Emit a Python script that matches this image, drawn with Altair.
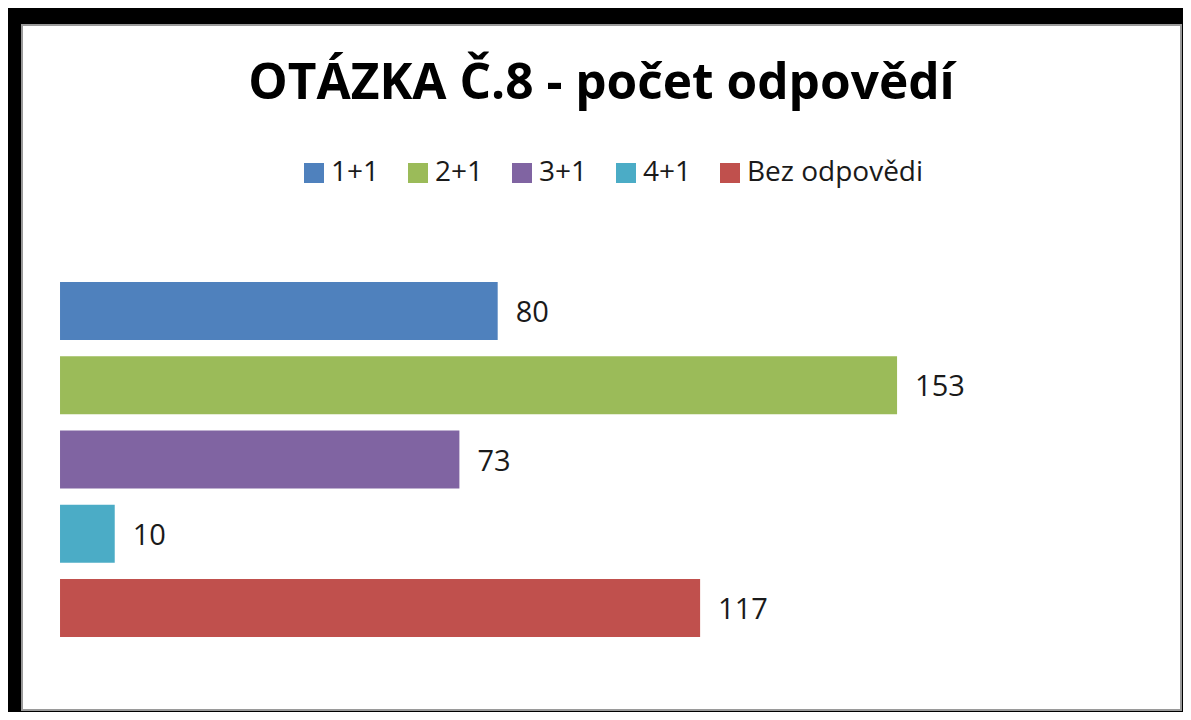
import altair as alt
import pandas as pd

categories = ["1+1", "2+1", "3+1", "4+1", "Bez odpovědi"]
values = [80, 153, 73, 10, 117]
colors = ["#4F81BD", "#9BBB59", "#8064A2", "#4BACC6", "#C0504D"]

df = pd.DataFrame({"kategorie": categories, "pocet": values})

FONT = "Open Sans"

x_enc = alt.X("pocet:Q", axis=None, scale=alt.Scale(domain=[-6.95, 204.9], nice=False, zero=False))
y_enc = alt.Y("kategorie:N", axis=None, sort=categories,
              scale=alt.Scale(range=[245, 624], paddingInner=0.22, paddingOuter=0.161))

bars = alt.Chart(df).mark_bar().encode(
    x=x_enc,
    y=y_enc,
    color=alt.Color("kategorie:N", sort=categories,
                    scale=alt.Scale(domain=categories, range=colors),
                    legend=alt.Legend(
                        title=None, orient="none", direction="horizontal",
                        legendX=278, legendY=134,
                        symbolType="square", symbolSize=400, symbolStrokeWidth=0,
                        symbolOpacity=1,
                        labelFont=FONT, labelFontSize=28, labelColor="#1a1a1a",
                        labelOffset=3, columnPadding=24, labelLimit=400,
                    )),
)

labels = alt.Chart(df).mark_text(
    align="left", baseline="middle", dx=18, dy=2,
    font=FONT, fontSize=29, color="#1a1a1a",
).encode(
    x=x_enc,
    y=y_enc,
    text=alt.Text("pocet:Q"),
)

chart = alt.layer(bars, labels).properties(
    width=1159, height=685,
    autosize="none",
    padding={"left": 14, "top": 17, "right": 2, "bottom": 2},
    background="#000000",
    title=alt.TitleParams(
        "OTÁZKA Č.8 - počet odpovědí",
        font=FONT, fontSize=49.6, fontWeight="bold", color="#000000",
        anchor="middle", frame="group", baseline="alphabetic", offset=-124,
    ),
).configure_view(fill="#ffffff", stroke="#9a9a9a", strokeWidth=2)

chart.save("out.html", embed_options={"renderer": "svg", "actions": False})
